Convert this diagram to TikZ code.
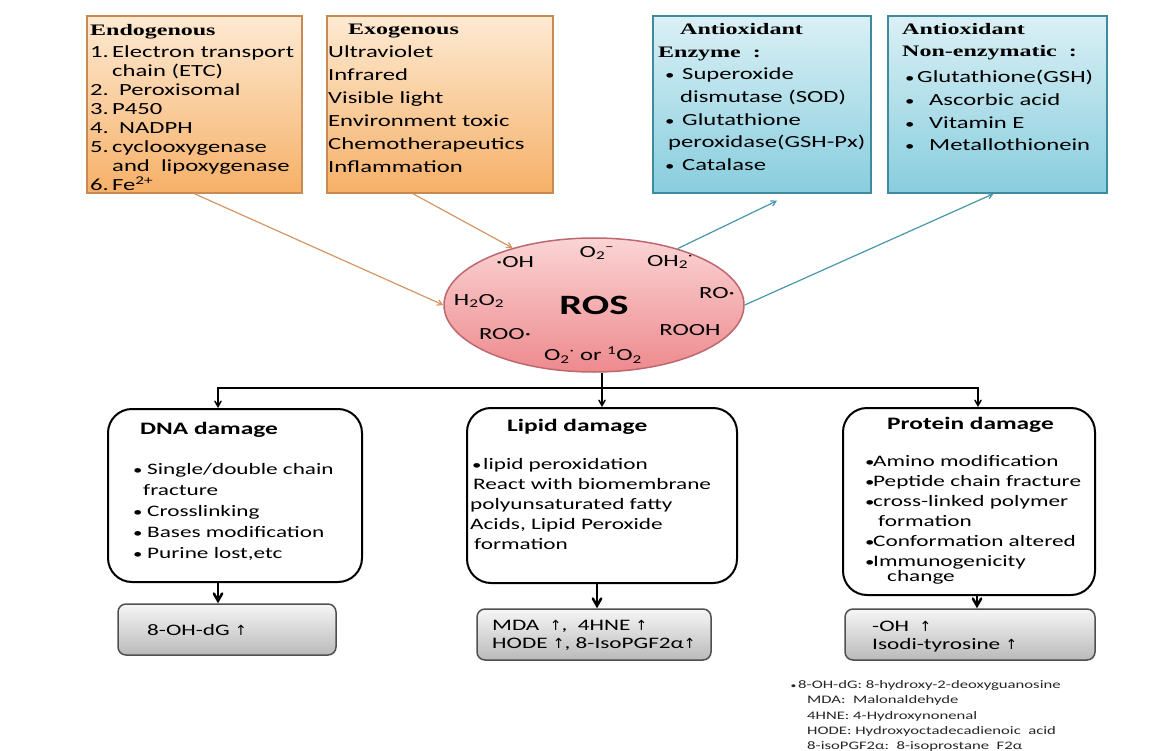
\documentclass[tikz,border=0pt]{standalone}
\usepackage{fontspec}
\setmainfont{Carlito}[FakeStretch=1.45]
\newfontfamily\headfont{Liberation Serif}[FakeStretch=1.5]
\newfontfamily\arrowfont{DejaVu Sans}
\usepackage{tikz}
\usepackage{xcolor}
\usetikzlibrary{positioning}
\usetikzlibrary{arrows}
\usetikzlibrary{shapes.geometric}
\definecolor{srcTop}{RGB}{253,234,210}
\definecolor{srcBot}{RGB}{246,176,104}
\definecolor{srcEdge}{RGB}{200,138,82}
\definecolor{srcArrow}{RGB}{214,150,100}
\definecolor{antiTop}{RGB}{218,240,245}
\definecolor{antiBot}{RGB}{136,205,222}
\definecolor{antiEdge}{RGB}{62,138,158}
\definecolor{antiArrow}{RGB}{72,150,172}
\definecolor{rosTop}{RGB}{250,212,212}
\definecolor{rosBot}{RGB}{238,138,142}
\definecolor{rosEdge}{RGB}{188,104,110}
\definecolor{markTop}{RGB}{246,246,246}
\definecolor{markBot}{RGB}{186,186,186}
\definecolor{markEdge}{RGB}{80,80,80}

\begin{document}
\begin{tikzpicture}[x=1pt,y=-1pt,>=angle 60,
  srcbox/.style={draw=srcEdge, line width=1.5pt, top color=srcTop, bottom color=srcBot, minimum width=#1, minimum height=177, inner sep=0pt},
  antibox/.style={draw=antiEdge, line width=1.5pt, top color=antiTop, bottom color=antiBot, minimum width=#1, minimum height=177, inner sep=0pt},
  dmgbox/.style={draw, line width=2pt, rounded corners=24pt, fill=white, minimum width=#1, inner sep=0pt},
  markbox/.style={draw=markEdge, line width=1.5pt, rounded corners=8pt, top color=markTop, bottom color=markBot, minimum width=#1, minimum height=51, inner sep=0pt},
  txt/.style={anchor=north west, inner sep=0pt, align=left},
  chem/.style={inner sep=0pt, font=\fontsize{17}{17}\selectfont},
  ]
\newcommand\Head[1]{{\headfont\bfseries\fontsize{16}{19}\selectfont #1}}
\newcommand\Up{{\arrowfont\fontsize{14}{14}\selectfont ↑}}
\newcommand\Dot{{\fontsize{13}{13}\selectfont •}}
\useasboundingbox (0,0) rectangle (1161,751);

% sources and scavengers
\node [srcbox=215] (endo) at (194.5,104.5) {};
\node [srcbox=226] (exo) at (440,104.5) {};
\node [antibox=218] (enz) at (762,104.5) {};
\node [antibox=219] (nonenz) at (997.5,104.5) {};

\node [txt, font=\fontsize{17}{19}\selectfont] (endoTxt) at (90,24) {\Head{Endogenous}\\[3pt]
\makebox[22pt][l]{1.}Electron transport\\
\hspace*{22pt}chain (ETC)\\
\makebox[29pt][l]{2.}Peroxisomal\\
\makebox[22pt][l]{3.}P450\\
\makebox[29pt][l]{4.}NADPH\\
\makebox[22pt][l]{5.}cyclooxygenase\\
\hspace*{22pt}and\ \ lipoxygenase\\
\makebox[22pt][l]{6.}Fe\textsuperscript{2+}};
\node [txt, font=\fontsize{17}{23}\selectfont] (exoTxt) at (328,24) {\hspace*{20pt}\Head{Exogenous}\\
Ultraviolet\\ Infrared\\ Visible light\\ Environment toxic\\ Chemotherapeutics\\ Inflammation};
\node [txt, font=\fontsize{17}{22.7}\selectfont] (enzTxt) at (658,23) {\hspace*{22pt}\Head{Antioxidant}\\
\Head{Enzyme\ \ :}\\
\hspace*{7pt}\makebox[17pt][l]{\Dot}Superoxide\\
\hspace*{22pt}dismutase (SOD)\\
\hspace*{7pt}\makebox[17pt][l]{\Dot}Glutathione\\
\hspace*{10pt}peroxidase(GSH-Px)\\
\hspace*{7pt}\makebox[17pt][l]{\Dot}Catalase};
\node [txt, font=\fontsize{17}{22.7}\selectfont] (nonenzTxt) at (902,23) {\Head{Antioxidant}\\
\Head{Non-enzymatic\ \ :}\\[3pt]
\hspace*{3pt}\makebox[12pt][l]{\Dot}Glutathione(GSH)\\
\hspace*{3pt}\makebox[24pt][l]{\Dot}Ascorbic acid\\
\hspace*{3pt}\makebox[24pt][l]{\Dot}Vitamin E\\
\hspace*{3pt}\makebox[24pt][l]{\Dot}Metallothionein};

% ROS
\node [ellipse, draw=rosEdge, line width=1.5pt, top color=rosTop, bottom color=rosBot, minimum width=300, minimum height=134, inner sep=0pt, font=\bfseries\fontsize{28}{28}\selectfont] (ros) at (594,305) {ROS};
\node [chem] (oh) at (515,262) {·OH};
\node [chem] (super) at (597,253) {O\textsubscript{2}\textsuperscript{–}};
\node [chem] (oh2) at (670,262) {OH\textsubscript{2}\textsuperscript{·}};
\node [chem] (h2o2) at (479,301) {H\textsubscript{2}O\textsubscript{2}};
\node [chem] (ro) at (717,293) {RO·};
\node [chem] (roo) at (505,334) {ROO·};
\node [chem] (rooh) at (690,330) {ROOH};
\node [chem] (singlet) at (593,355) {O\textsubscript{2}\textsuperscript{·} or \textsuperscript{1}O\textsubscript{2}};

\draw [->, srcArrow, line width=1.2pt] (endo.south) -- (ros.west);
\draw [->, srcArrow, line width=1.2pt] ([xshift=-27pt]exo.south) -- (ros.145);
\draw [->, antiArrow, line width=1.2pt] (ros.34) -- ([xshift=15pt,yshift=-7pt]enz.south);
\draw [->, antiArrow, line width=1.2pt] (ros.east) -- ([xshift=-4pt]nonenz.south);

% damage
\node [dmgbox=254, minimum height=173] (dna) at (235,495.5) {};
\node [dmgbox=270, minimum height=175] (lip) at (602,495.5) {};
\node [dmgbox=252, minimum height=187] (pro) at (969,501.5) {};

\node [anchor=base west, inner sep=0pt, font=\bfseries\fontsize{17.5}{20}\selectfont] (dnaHead) at (140,434.6) {DNA damage};
\node [anchor=base west, inner sep=0pt, font=\bfseries\fontsize{17.5}{20}\selectfont] (lipHead) at (507,431.6) {Lipid damage};
\node [anchor=base west, inner sep=0pt, font=\bfseries\fontsize{17.5}{20}\selectfont] (proHead) at (887,429.6) {Protein damage};

\node [txt, font=\fontsize{16}{21}\selectfont] (dnaTxt) at (133,463.5) {\makebox[14pt][l]{\Dot}Single/double chain\\
\hspace*{10pt}fracture\\
\makebox[14pt][l]{\Dot}Crosslinking\\
\makebox[14pt][l]{\Dot}Bases modification\\
\makebox[14pt][l]{\Dot}Purine lost,etc};
\node [txt, font=\fontsize{16}{20}\selectfont] (lipTxt) at (470,458.5) {\hspace*{2pt}\makebox[11pt][l]{\Dot}lipid peroxidation\\
\hspace*{3pt}React with biomembrane\\
polyunsaturated fatty\\
Acids, Lipid Peroxide\\
\hspace*{4pt}formation};
\node [txt, font=\fontsize{16}{20}\selectfont] (proTxt) at (865,455.5) {\makebox[8pt][l]{\Dot}Amino modification\\
\makebox[8pt][l]{\Dot}Peptide chain fracture\\
\makebox[8pt][l]{\Dot}cross-linked polymer\\
\hspace*{13pt}formation\\
\makebox[8pt][l]{\Dot}Conformation altered\\
\makebox[8pt][l]{\Dot}Immunogenicity\\[-5pt]
\hspace*{22pt}change};

% markers
\node [markbox=218] (ohdg) at (227,629.5) {};
\node [markbox=234] (mda) at (594,634.5) {};
\node [markbox=250] (tyr) at (970,634.5) {};
\node [anchor=base west, inner sep=0pt, font=\fontsize{16}{18}\selectfont] (ohdgTxt) at (147,635) {8-OH-dG \Up};
\node [txt, font=\fontsize{16}{18}\selectfont] (mdaTxt) at (492,620.5) {MDA\ \ \Up,\ \ 4HNE \Up\\HODE \Up, 8-IsoPGF2α\Up};
\node [txt, font=\fontsize{16}{18}\selectfont] (tyrTxt) at (872,620.5) {-OH\ \ \Up\\Isodi-tyrosine \Up};

% tree
\coordinate (bar) at (602,388);
\coordinate (dnaIn) at ([xshift=-17pt]dna.north);
\coordinate (proIn) at ([xshift=9pt]pro.north);
\draw [->, line width=1.5pt] (ros.south -| lip.north) -- (lip.north);
\draw [<->, line width=1.5pt] (dnaIn) |- (bar -| proIn) -- (proIn);

\coordinate (dnaOut) at ([xshift=-17pt]dna.south);
\coordinate (lipOut) at ([xshift=-5pt]lip.south);
\coordinate (proOut) at ([xshift=8pt]pro.south);
\draw [->, line width=2.5pt] (dnaOut) -- (dnaOut |- ohdg.north);
\draw [->, line width=2.5pt] (lipOut) -- (lipOut |- mda.north);
\draw [->, line width=2.5pt] (proOut) -- (proOut |- tyr.north);

% key
\node [txt, font=\fontsize{11.5}{15.2}\selectfont, text=black!85] (key) at (807,680.5) {\hspace*{-9pt}\llap{{\fontsize{8}{8}\selectfont•}\,}8-OH-dG: 8-hydroxy-2-deoxyguanosine\\
MDA:\ \ Malonaldehyde\\
4HNE: 4-Hydroxynonenal\\
HODE: Hydroxyoctadecadienoic\ \ acid\\
8-isoPGF2α:\ \ 8-isoprostane\ \ F2α};
\end{tikzpicture}
\end{document}
